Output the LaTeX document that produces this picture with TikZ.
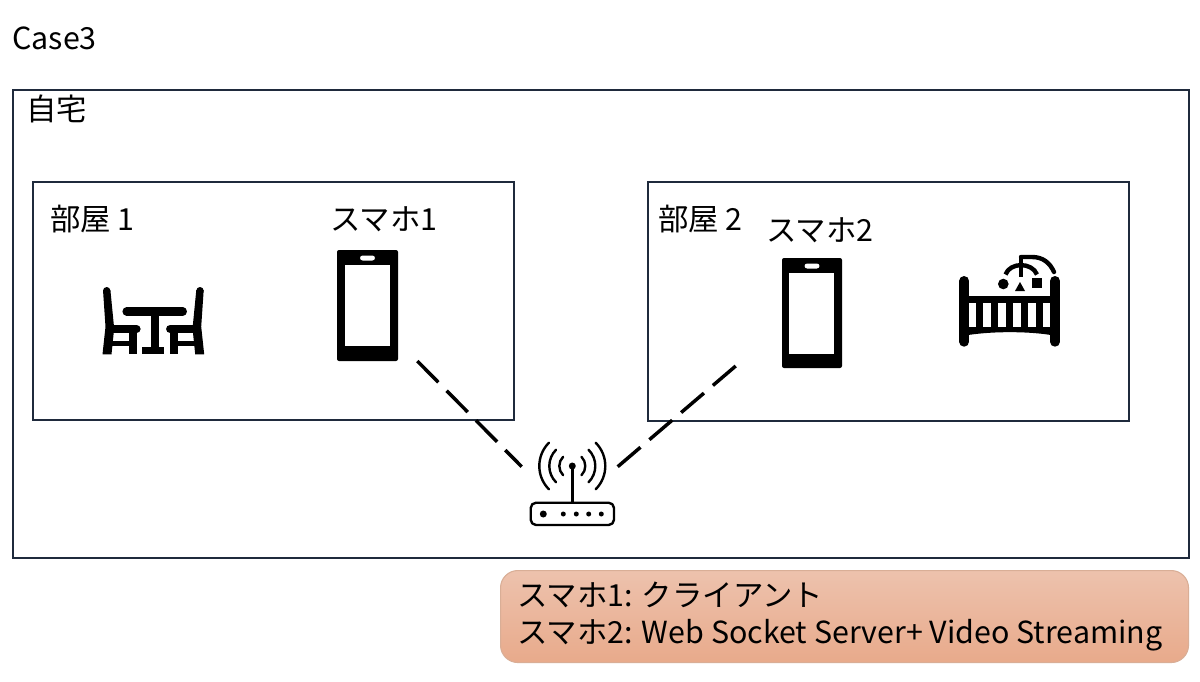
\documentclass[tikz,border=0pt]{standalone}
\usepackage{fontspec}
\setmainfont{Noto Sans CJK JP}
\usetikzlibrary{calc}
\definecolor{roomline}{HTML}{1F2A3C}
\definecolor{notetop}{HTML}{EDC2AD}
\definecolor{notebot}{HTML}{E8AA8B}
\definecolor{noteline}{HTML}{D9AE96}
\begin{document}
\begin{tikzpicture}[x=0.75pt,y=-0.75pt,
  txt/.style={inner sep=0pt,anchor=base west,font=\fontsize{22.8pt}{27pt}\selectfont,text=black},
  room/.style={draw=roomline,line width=0.85pt},
  link/.style={black,line width=2.6pt,dash pattern=on 22.5pt off 8.8pt},
  ic/.style={black,line cap=round,line join=round},
  note/.style={draw=noteline,line width=0.8pt,rounded corners=13pt,top color=notetop,bottom color=notebot,
    minimum width=516pt,minimum height=69pt,inner sep=0pt,anchor=north west}]
\useasboundingbox (0,0) rectangle (1200,682);
\fill[white] (0,0) rectangle (1200,682);
\node[txt] (case) at (12,49) {Case3};
\draw[room] (13,90) rectangle (1189,558);
\node[txt] (home) at (26,120) {自宅};
\draw[room] (33,182) rectangle (514,420);
\draw[room] (648,182) rectangle (1129,421);
\node[txt] (r1) at (50,230) {部屋 1};
\node[txt] (r2) at (658,230) {部屋 2};
\node[txt] (s1) at (330,230) {スマホ1};
\node[txt] (s2) at (766,241) {スマホ2};
% phones
\fill[black,rounded corners=1.5pt] (337,250) rectangle (398,361);
\fill[white] (345,265) rectangle (390,346);
\fill[white,rounded corners=2pt] (360,255.5) rectangle (375,260.5);
\fill[black,rounded corners=1.5pt] (782,258) rectangle (842,368);
\fill[white] (789,273) rectangle (834,354);
\fill[white,rounded corners=2pt] (804.5,263.5) rectangle (819.5,268.5);
% table
\begin{scope}[ic]
\draw[line width=6.4pt] (126.7,311.5) -- (182.7,311.5);
\fill (150.5,312) rectangle (158.5,350);
\fill (141.7,347) rectangle (164.3,354.3);
\foreach \s/\o in {1/0,-1/306.7}{
 \begin{scope}[shift={(\o,0)},xscale=\s]
 \fill (103,290) -- (105.5,326.7) -- (102.5,354.3) -- (111.5,354.3) -- (114,330) -- (114,326.7) -- (110.4,290) -- cycle;
 \fill (106.7,290.7) circle[radius=3.7];
 \draw[line width=6.2pt] (112,329) -- (136.5,329);
 \fill (128.5,329) rectangle (136.9,354.3);
 \fill (108,340.5) rectangle (132,345.7);
 \end{scope}}
\end{scope}
% crib
\begin{scope}[ic]
\fill (964,296) -- (1055,296) -- (1055,335.7) .. controls (1030,331) and (990,331) .. (964,335.7) -- cycle;
\foreach \a/\b in {969.3/975.7,983.3/990.7,998.3/1006,1013.3/1021,1028.3/1036,1043.3/1050}{
 \fill[white] (\a,303.3) rectangle (\b,326.5);}
\draw[line width=7.5pt] (964.3,281) -- (964.3,341.7);
\draw[line width=7.5pt] (1055,281) -- (1055,341.7);
\draw[line width=3.3pt,line cap=butt] (1005.5,274.5) .. controls (1010,262) and (1032,262) .. (1037,274.5);
\draw[line width=3.3pt,line cap=butt] (1021,257) -- (1021,277);
\draw[line width=3.3pt] (1021,257) -- (1032,257) .. controls (1043,257) and (1050,263) .. (1054,272);
\fill (1003.3,284) circle[radius=5.3];
\fill (1015,291) -- (1025,291) -- (1020,282) -- cycle;
\fill (1031.7,278.3) rectangle (1042.3,288.3);
\end{scope}
% router
\begin{scope}[ic]
\draw[line width=1.8pt,rounded corners=4pt] (530.7,502.7) rectangle (614,525);
\draw[line width=1.8pt] (572.3,466) -- (572.3,502.7);
\fill (572.3,466) circle[radius=3.5];
\foreach \r in {13,23,33}{
 \draw[line width=1.8pt] ($(572.3,466)+(-\r*0.707,-\r*0.707)$) arc[start angle=225,end angle=135,radius=\r];
 \draw[line width=1.8pt] ($(572.3,466)+(\r*0.707,-\r*0.707)$) arc[start angle=-45,end angle=45,radius=\r];
}
\fill (543.3,514) circle[radius=3.5];
\foreach \x in {563.3,576.3,588.7,601.3}{\fill (\x,514) circle[radius=2.5];}
\end{scope}
% connectors
\coordinate (a1) at (417.3,361);
\coordinate (a2) at (521.7,466.7);
\coordinate (b1) at (735.7,366);
\coordinate (b2) at (617.7,466.7);
\draw[link] (a1) -- (a2);
\draw[link] (b1) -- (b2);
% note
\node[note] (legend) at (500,570) {};
\node[txt,align=left,anchor=west,font=\fontsize{22.8pt}{27.75pt}\selectfont] (legendtext) at (517,617) {スマホ1: クライアント\\スマホ2: Web Socket Server+ Video Streaming};
\end{tikzpicture}
\end{document}
